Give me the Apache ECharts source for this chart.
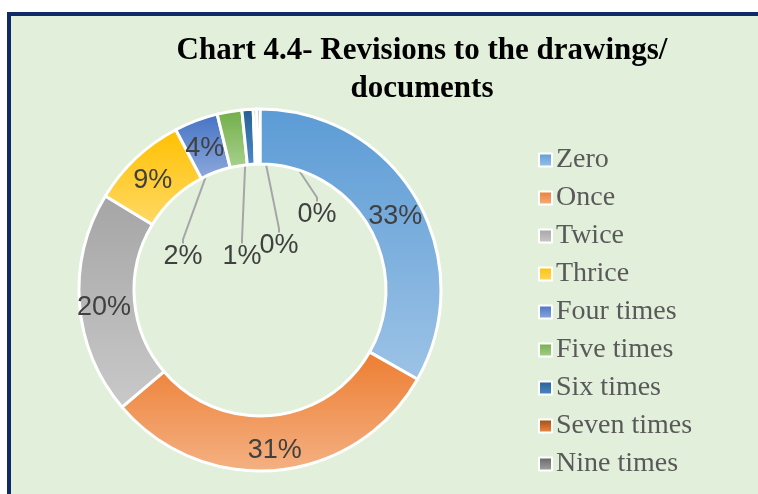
<!DOCTYPE html>
<html lang="en">
<head>
    <meta charset="UTF-8">
    <title>Revisions to the drawings</title>
    <script src="https://cdn.jsdelivr.net/npm/echarts@6/dist/echarts.min.js"></script>
    <style>
        html, body { margin: 0; padding: 0; background: #fff; overflow: hidden; }
        #frame {
            position: absolute; left: 7px; top: 12px; width: 800px; height: 520px;
            border-top: 4px solid #102a66; border-left: 4px solid #102a66;
            background: #e2efda;
        }
        #myChart { position: absolute; left: 0; top: 0; width: 758px; height: 494px; }
    </style>
</head>
<body>
<div id="frame"></div>
<div id="myChart"></div>
<script type="text/javascript">
    // data (percent of drawings)
    var categories = ['Zero', 'Once', 'Twice', 'Thrice', 'Four times', 'Five times', 'Six times', 'Seven times', 'Nine times'];
    var shares = [33.2, 30.6, 19.9, 8.6, 3.9, 2.2, 1.0, 0.3, 0.3];
    // gradient top / bottom colour of each slice
    var topColors = ['#5b9bd5', '#ed7d31', '#a5a5a5', '#ffc000', '#4472c4', '#70ad47', '#255e91', '#9e480e', '#636363'];
    var bottomColors = ['#9dc3e6', '#f4b183', '#c9c9c9', '#ffd966', '#8faadc', '#a9d18e', '#4f8ac9', '#f08d4a', '#a5a5a5'];

    // where the labels of the thin slices sit, inside the hole
    var smallLabelSpots = { 5: [183, 257], 6: [242, 257], 7: [279, 246], 8: [317, 215] };

    var pieData = categories.map(function (name, i) {
        var item = {
            name: name,
            value: shares[i],
            itemStyle: {
                color: new echarts.graphic.LinearGradient(0, 0, 0, 1, [
                    { offset: 0, color: topColors[i] },
                    { offset: 1, color: bottomColors[i] }
                ])
            }
        };
        if (smallLabelSpots[i]) {
            item.label = { position: 'outside', offset: [0, 0] };
            item.labelLine = { show: true, length: 4, length2: 4, lineStyle: { color: '#a6a6a6', width: 2 } };
        }
        return item;
    });

    var myChart = echarts.init(document.getElementById('myChart'));
    myChart.setOption({
        backgroundColor: 'transparent',
        animation: false,
        title: {
            text: 'Chart 4.4- Revisions to the drawings/\ndocuments',
            left: 417,
            top: 27,
            textAlign: 'center',
            textStyle: {
                fontFamily: 'Liberation Serif',
                fontWeight: 'bold',
                fontSize: 31,
                lineHeight: 38,
                color: '#000'
            }
        },
        legend: {
            orient: 'vertical',
            left: 533,
            top: 140,
            icon: 'rect',
            itemWidth: 13,
            itemHeight: 13,
            itemGap: 8,
            data: categories,
            textStyle: {
                fontFamily: 'Liberation Serif',
                fontSize: 28,
                lineHeight: 30,
                color: '#595959',
                padding: [0, 0, 0, -1]
            }
        },
        series: [
            {
                name: 'Revisions',
                type: 'pie',
                center: [260, 290],
                radius: [126, 181],
                startAngle: 90,
                clockwise: true,
                avoidLabelOverlap: false,
                data: pieData,
                itemStyle: { borderColor: '#fff', borderWidth: 3 },
                label: {
                    position: 'inside',
                    offset: [0, 5],
                    formatter: function (p) { return Math.round(p.percent) + '%'; },
                    fontFamily: 'Liberation Sans',
                    fontSize: 27,
                    color: '#404040'
                },
                labelLayout: function (params) {
                    var spot = smallLabelSpots[params.dataIndex];
                    if (!spot) { return {}; }
                    return { x: spot[0], y: spot[1], align: 'center', verticalAlign: 'middle' };
                }
            }
        ]
    });
</script>
</body>
</html>
